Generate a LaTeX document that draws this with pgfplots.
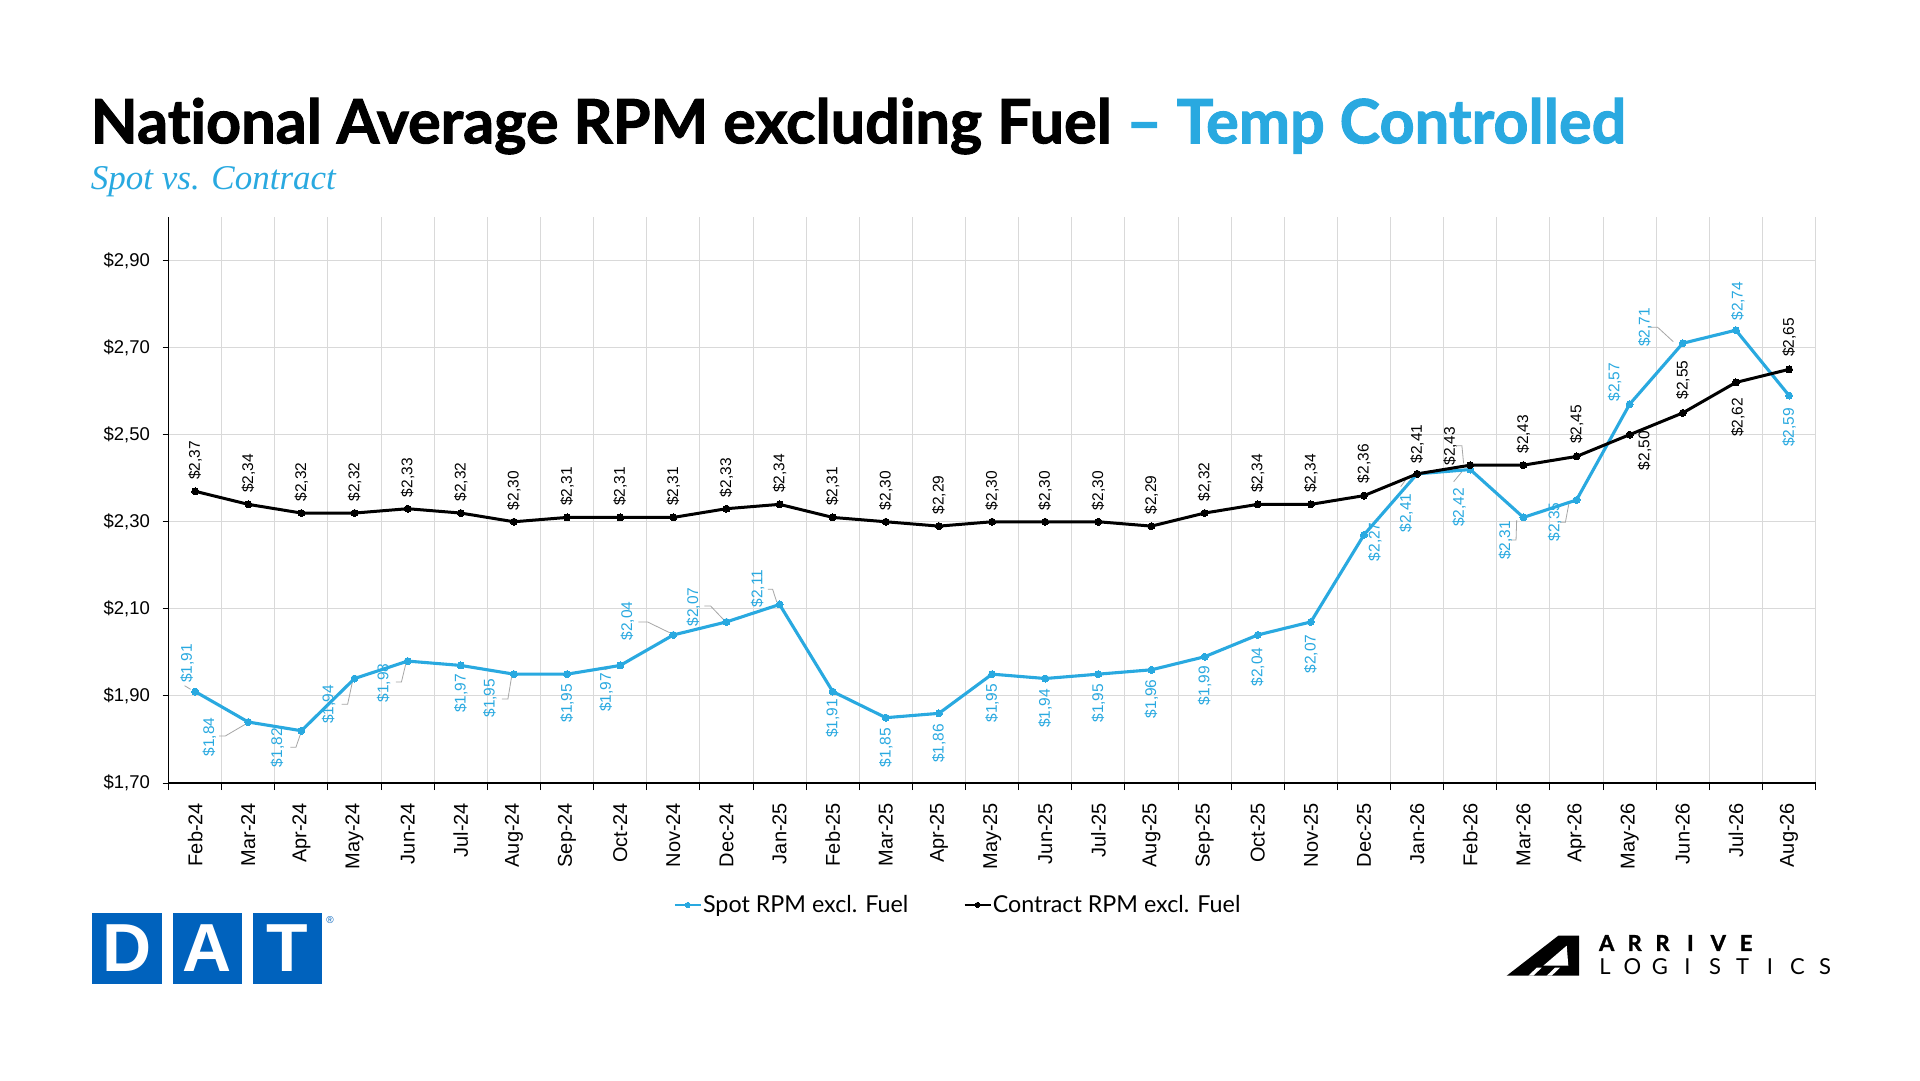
\documentclass[border=0pt]{standalone}
\usepackage{fontspec}
\usepackage{pgfplots}
\pgfplotsset{compat=1.18}
\usepackage{pgfplotstable}
\setmainfont{Liberation Sans}
\newfontfamily\latofont[Ligatures=NoCommon]{Lato}
\newfontfamily\titlefont[Ligatures=NoCommon, BoldFeatures={FakeBold=1.6}]{Lato}
\newfontfamily\serifit{Liberation Serif}
\definecolor{spotblue}{HTML}{29A9E0}
\definecolor{datblue}{HTML}{0062BD}
\definecolor{gridgray}{HTML}{D9D9D9}
\definecolor{leadgray}{HTML}{A6A6A6}

\pgfplotstableread{
x y dx dy
0 1.91 -8 28
1 1.84 -39 -15
2 1.82 -24 -17
3 1.94 -26 -26
4 1.98 -24 -22
5 1.97 0 -28
6 1.95 -24 -24
7 1.95 0 -29
8 1.97 -14 -27
9 2.04 -46 14
10 2.07 -33 15
11 2.11 -22 16
12 1.91 0 -27
13 1.85 0 -30
14 1.86 0 -30
15 1.95 0 -29
16 1.94 0 -30
17 1.95 0 -29
18 1.96 0 -29
19 1.99 0 -29
20 2.04 0 -32
21 2.07 0 -32
22 2.27 11 -7
23 2.41 -11 -39
24 2.42 -11 -38
25 2.31 -18 -23
26 2.35 -22 -22
27 2.57 -15 22
28 2.71 -38 16
29 2.74 2 29
30 2.59 0 -32
}\spot

\pgfplotstableread{
x y dx dy
0 2.37 0 31
1 2.34 0 31
2 2.32 0 31
3 2.32 0 31
4 2.33 0 31
5 2.32 0 31
6 2.30 0 31
7 2.31 0 31
8 2.31 0 31
9 2.31 0 31
10 2.33 0 31
11 2.34 0 31
12 2.31 0 31
13 2.30 0 31
14 2.29 0 31
15 2.30 0 31
16 2.30 0 31
17 2.30 0 31
18 2.29 0 31
19 2.32 0 31
20 2.34 0 31
21 2.34 0 31
22 2.36 0 32
23 2.41 0 30
24 2.43 -20 19
25 2.43 0 31
26 2.45 0 32
27 2.50 15 -16
28 2.55 0 33
29 2.62 2 -35
30 2.65 0 32
}\contract

\pgfplotsset{leader/.style={leadgray, line width=0.8pt, forget plot, mark=none}}

\begin{document}
\begin{tikzpicture}[x=1pt,y=1pt]
\path[use as bounding box, fill=white] (0,0) rectangle (1920,1080);

% title
\node[anchor=base west, inner sep=0pt] at (90.5,936.7)
  {\resizebox{1535pt}{!}{\titlefont\bfseries National Average RPM excluding Fuel \textcolor{spotblue}{– Temp Controlled}}};
\node[anchor=base west, inner sep=0pt, text=spotblue] at (90.7,890)
  {\resizebox{245pt}{23pt}{\serifit\itshape Spot vs. Contract}};

\begin{axis}[
  at={(168.6pt,297pt)}, anchor=south west,
  scale only axis, width=1647pt, height=566pt,
  xmin=-0.5, xmax=30.5, ymin=1.7, ymax=3.0,
  axis lines=left,
  axis line style={-, black, line width=1.2pt},
  clip=false,
  xtick={0,...,30},
  xticklabels={Feb-24,Mar-24,Apr-24,May-24,Jun-24,Jul-24,Aug-24,Sep-24,Oct-24,Nov-24,Dec-24,Jan-25,Feb-25,Mar-25,Apr-25,May-25,Jun-25,Jul-25,Aug-25,Sep-25,Oct-25,Nov-25,Dec-25,Jan-26,Feb-26,Mar-26,Apr-26,May-26,Jun-26,Jul-26,Aug-26},
  minor xtick={-0.5,0.5,...,30.5},
  ytick={1.7,1.9,2.1,2.3,2.5,2.7,2.9},
  tick align=outside,
  major tick length=6pt,
  minor tick length=7pt,
  major x tick style={draw=none},
  minor x tick style={black, line width=1pt},
  y tick style={black, line width=1pt},
  xmajorgrids=false, xminorgrids=true, ymajorgrids=true,
  major grid style={gridgray, line width=1pt},
  minor grid style={gridgray, line width=1pt},
  /pgf/number format/assume math mode=true,
  yticklabel={\$\pgfmathprintnumber[fixed,fixed zerofill,precision=2,use comma]{\tick}},
  yticklabel style={font=\fontsize{18.5}{18.5}\selectfont, inner sep=0pt, anchor=east, xshift=-12.5pt},
  xticklabel style={font=\fontsize{20}{20}\selectfont, inner sep=0pt, yshift=-13.7pt, rotate=90, anchor=east},
  legend style={at={(0.479,-0.2155)}, anchor=center, draw=none, fill=none,
    font=\latofont\fontsize{23.3}{23.3}\selectfont, nodes={inner sep=1pt},
    /tikz/every even column/.append style={column sep=54pt}},
  legend columns=2,
  legend cell align=left,
  legend image code/.code={\draw[mark repeat=2,mark phase=2,#1,line width=2.4pt,mark size=2.6pt] plot coordinates {(0pt,0pt) (13pt,0pt) (26pt,0pt)};},
]
% leader lines
\addplot[leader] coordinates {(-0.200,1.9235)(-0.086,1.9152)};
\addplot[leader] coordinates {(0.4515,1.808)(0.5676,1.808)(0.974,1.837)};
\addplot[leader] coordinates {(1.794,1.782)(1.896,1.782)(1.987,1.814)};
\addplot[leader] coordinates {(2.755,1.881)(2.870,1.881)(2.961,1.933)};
\addplot[leader] coordinates {(3.776,1.932)(3.883,1.932)(3.967,1.975)};
\addplot[leader] coordinates {(5.771,1.893)(5.887,1.893)(5.956,1.944)};
\addplot[leader] coordinates {(7.706,1.960)(7.921,1.969)};
\addplot[leader] coordinates {(8.342,2.070)(8.513,2.070)(8.934,2.045)};
\addplot[leader] coordinates {(9.586,2.1065)(9.702,2.1065)(9.955,2.074)};
\addplot[leader] coordinates {(10.778,2.145)(10.869,2.145)(10.946,2.116)};
\addplot[leader] coordinates {(22.690,2.3805)(22.783,2.396)};
\addplot[leader] coordinates {(23.750,2.4747)(23.843,2.4747)(23.875,2.434)};
\addplot[leader] coordinates {(23.688,2.392)(23.843,2.415)};
\addplot[leader] coordinates {(24.750,2.258)(24.862,2.258)(24.874,2.304)};
\addplot[leader] coordinates {(25.686,2.299)(25.791,2.299)(25.860,2.344)};
\addplot[leader] coordinates {(27.372,2.7466)(27.528,2.7466)(27.822,2.7136)};

\addplot[spotblue, line width=3.1pt, line join=round, mark=*, mark size=3.5pt,
  mark options={solid, fill=spotblue, line width=0pt},
  point meta=y,
  visualization depends on={\thisrow{dx}\as\dx},
  visualization depends on={\thisrow{dy}\as\dy},
  nodes near coords={\$\pgfmathprintnumber[fixed,fixed zerofill,precision=2,use comma]{\pgfplotspointmeta}},
  every node near coord/.append style={font=\fontsize{15.5}{15.5}\selectfont, text=spotblue, inner sep=0pt, anchor=center, xshift=\dx pt, yshift=\dy pt, rotate=90},
] table[x=x,y=y] {\spot};
\addlegendentry{Spot RPM excl. Fuel}

\addplot[black, line width=3pt, line join=round, mark=*, mark size=3.5pt,
  mark options={solid, fill=black, line width=0pt},
  point meta=y,
  visualization depends on={\thisrow{dx}\as\dx},
  visualization depends on={\thisrow{dy}\as\dy},
  nodes near coords={\$\pgfmathprintnumber[fixed,fixed zerofill,precision=2,use comma]{\pgfplotspointmeta}},
  every node near coord/.append style={font=\fontsize{15.5}{15.5}\selectfont, text=black, inner sep=0pt, anchor=center, xshift=\dx pt, yshift=\dy pt, rotate=90},
] table[x=x,y=y] {\contract};
\addlegendentry{Contract RPM excl. Fuel}
\end{axis}

% DAT logo
\fill[datblue] (92,96) rectangle (162,167);
\fill[datblue] (172.5,96) rectangle (242,167);
\fill[datblue] (252.5,96) rectangle (322,167);
\node[text=white, inner sep=0pt, font=\bfseries\fontsize{68}{68}\selectfont] at (127,131.5) {D};
\node[text=white, inner sep=0pt, font=\bfseries\fontsize{68}{68}\selectfont] at (207.3,131.5) {A};
\node[text=white, inner sep=0pt, font=\bfseries\fontsize{68}{68}\selectfont] at (287.3,131.5) {T};
\node[text=datblue, inner sep=0pt, font=\fontsize{10}{10}\selectfont] at (330,160) {®};

% Arrive logo
\fill[black] (1506.7,104.3) -- (1558.3,144.3) -- (1579,144.3) -- (1579,104.3) -- cycle;
\fill[white] (1566.7,134.3) -- (1543.3,114.3) -- (1568.3,114.3) -- cycle;
\fill[white] (1528.3,104.3) -- (1533.3,104.3) -- (1541.7,112.3) -- (1536.7,112.3) -- cycle;
\fill[white] (1546.7,104.3) -- (1551.7,104.3) -- (1560,112.3) -- (1555,112.3) -- cycle;
\foreach \l [count=\i from 0] in {A,R,R,I,V,E}
  \node[inner sep=0pt, font=\titlefont\bfseries\fontsize{22}{22}\selectfont] at (1606.7+27.9*\i,137) {\l};
\foreach \l [count=\i from 0] in {L,O,G,I,S,T,I,C,S}
  \node[inner sep=0pt, font=\latofont\fontsize{22}{22}\selectfont] at (1605+27.5*\i,113) {\l};
\end{tikzpicture}
\end{document}
